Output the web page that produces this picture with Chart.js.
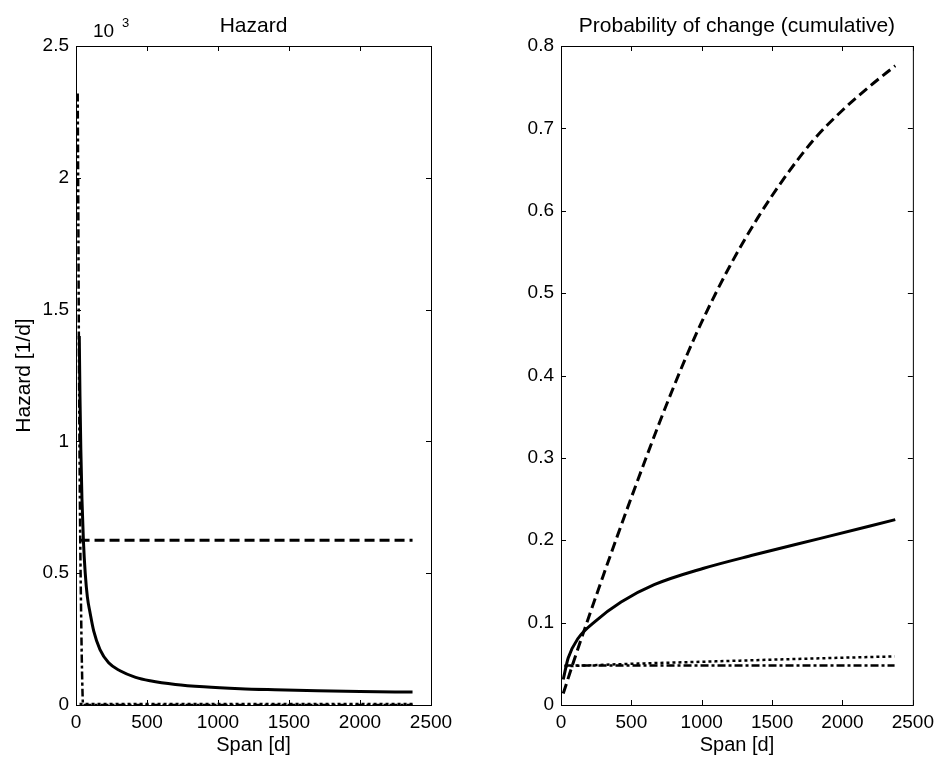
<!DOCTYPE html>
<html>
<head>
<meta charset="utf-8">
<script src="https://cdn.jsdelivr.net/npm/chart.js@4.4.1/dist/chart.umd.min.js"></script>
<style>
  html, body { margin: 0; padding: 0; background: #fff; }
  #wrap { position: relative; width: 940px; height: 757px; }
  canvas { position: absolute; top: 0; }
  #hazardChart { left: 0; }
  #probChart { left: 470px; }
</style>
</head>
<body>
<div id="wrap">
  <canvas id="hazardChart" width="470" height="757"></canvas>
  <canvas id="probChart" width="470" height="757"></canvas>
</div>
<script>
// Left panel: hazard (x 10^3)
const hazSolidX = [23, 28, 34, 42, 52, 65, 80, 99, 125, 169, 230, 310, 420, 522, 700, 900, 1156, 1400, 1700, 2000, 2370];
const hazSolidY = [1.40, 1.17, 0.97, 0.78, 0.626, 0.50, 0.41, 0.35, 0.28, 0.21, 0.16, 0.13, 0.105, 0.092, 0.078, 0.069, 0.062, 0.058, 0.054, 0.051, 0.049];
const hazDashX = [25, 2370];
const hazDashY = [0.625, 0.625];
const hazDashDotX = [12, 16, 20, 25, 30, 36, 42, 50, 2370];
const hazDashDotY = [2.32, 1.9, 1.4, 0.95, 0.62, 0.35, 0.14, 0.0, 0.0];
const hazDotX = [25, 2370];
const hazDotY = [0.004, 0.004];

// Right panel: cumulative probability of change
const probDashX = [16, 100, 200, 300, 400, 500, 600, 700, 800, 900, 1000, 1200, 1400, 1600, 1800, 2000, 2200, 2375];
const probDashY = [0.014, 0.058, 0.108, 0.157, 0.205, 0.252, 0.298, 0.343, 0.386, 0.427, 0.465, 0.533, 0.592, 0.643, 0.687, 0.722, 0.752, 0.776];
const probSolidX = [16, 51, 122, 239, 427, 662, 1014, 1366, 1836, 2375];
const probSolidY = [0.031, 0.057, 0.081, 0.101, 0.125, 0.146, 0.166, 0.182, 0.202, 0.225];
const probDotX = [25, 500, 1100, 1800, 2370];
const probDotY = [0.047, 0.050, 0.053, 0.0565, 0.059];
const probDashDotX = [25, 2370];
const probDashDotY = [0.048, 0.048];

const spanTicks = [0, 500, 1000, 1500, 2000, 2500];

const FONT = "'Liberation Sans', Arial, sans-serif";

function pts(xs, ys) {
    return xs.map((x, i) => ({ x: x, y: ys[i] }));
}

function line(xs, ys, dash, width) {
    return {
        data: pts(xs, ys),
        showLine: true,
        borderColor: '#000',
        borderWidth: width,
        borderDash: dash,
        pointRadius: 0,
        cubicInterpolationMode: 'monotone',
        fill: false
    };
}

// box around the plot with inward ticks on all four sides
const framePlugin = {
    id: 'frame',
    afterDatasetsDraw(chart) {
        const { ctx, chartArea: a, scales: { x, y } } = chart;
        ctx.save();
        ctx.strokeStyle = '#000';
        ctx.lineWidth = 1;
        ctx.strokeRect(a.left + 0.5, a.top + 0.5, a.width, a.height);
        ctx.beginPath();
        x.ticks.forEach(t => {
            const px = Math.round(x.getPixelForValue(t.value)) + 0.5;
            ctx.moveTo(px, a.bottom); ctx.lineTo(px, a.bottom - 5);
            ctx.moveTo(px, a.top); ctx.lineTo(px, a.top + 5);
        });
        y.ticks.forEach(t => {
            const py = Math.round(y.getPixelForValue(t.value)) + 0.5;
            ctx.moveTo(a.left, py); ctx.lineTo(a.left + 5, py);
            ctx.moveTo(a.right, py); ctx.lineTo(a.right - 5, py);
        });
        ctx.stroke();
        ctx.restore();
    }
};

// "10^3" multiplier above the hazard axis
const exponentPlugin = {
    id: 'exponent',
    afterDraw(chart) {
        const { ctx, chartArea: a } = chart;
        ctx.save();
        ctx.fillStyle = '#000';
        ctx.textBaseline = 'alphabetic';
        ctx.font = '19px ' + FONT;
        ctx.fillText('10', a.left + 17, a.top - 9);
        ctx.font = '13px ' + FONT;
        ctx.fillText('3', a.left + 46, a.top - 19);
        ctx.restore();
    }
};

function makeOptions(title, yMax, yStep, yTitle, yWidth, padRight) {
    return {
        responsive: false,
        animation: false,
        devicePixelRatio: 1,
        layout: { padding: { left: 0, right: padRight, top: 0, bottom: 0 } },
        plugins: {
            legend: { display: false },
            tooltip: { enabled: false },
            title: {
                display: true,
                fullSize: false,
                text: title,
                color: '#000',
                font: { family: FONT, size: 21, weight: 'normal' },
                padding: { top: 14, bottom: 6.8 }
            }
        },
        scales: {
            x: {
                type: 'linear',
                min: 0,
                max: 2500,
                afterBuildTicks: s => { s.ticks = spanTicks.map(v => ({ value: v })); },
                ticks: {
                    color: '#000',
                    padding: 6,
                    autoSkip: false,
                    maxRotation: 0,
                    font: { family: FONT, size: 19 },
                    callback: v => String(v)
                },
                grid: { display: false, drawTicks: false },
                border: { display: false },
                title: {
                    display: true,
                    text: 'Span [d]',
                    color: '#000',
                    font: { family: FONT, size: 20 },
                    padding: { top: 0, bottom: 0 }
                },
                afterFit: s => { s.height = 52; }
            },
            y: {
                type: 'linear',
                min: 0,
                max: yMax,
                ticks: {
                    stepSize: yStep,
                    color: '#000',
                    padding: 7,
                    font: { family: FONT, size: 19 },
                    callback: v => String(+v.toFixed(2))
                },
                grid: { display: false, drawTicks: false },
                border: { display: false },
                title: {
                    display: !!yTitle,
                    text: yTitle,
                    color: '#000',
                    font: { family: FONT, size: 21 },
                    padding: { top: 12, bottom: 0 }
                },
                afterFit: s => { s.width = yWidth; }
            }
        }
    };
}

new Chart(document.getElementById('hazardChart'), {
    type: 'scatter',
    data: {
        datasets: [
            line(hazSolidX, hazSolidY, [], 3),
            line(hazDashX, hazDashY, [10, 5], 3),
            line(hazDashDotX, hazDashDotY, [8, 3, 3, 3], 2.5),
            line(hazDotX, hazDotY, [3, 3], 2.5)
        ]
    },
    options: makeOptions('Hazard', 2.5, 0.5, 'Hazard [1/d]', 76, 39),
    plugins: [framePlugin, exponentPlugin]
});

new Chart(document.getElementById('probChart'), {
    type: 'scatter',
    data: {
        datasets: [
            line(probDashX, probDashY, [10, 5], 3),
            line(probSolidX, probSolidY, [], 3),
            line(probDotX, probDotY, [3, 3], 2.5),
            line(probDashDotX, probDashDotY, [8, 3, 3, 3], 2.5)
        ]
    },
    options: makeOptions('Probability of change (cumulative)', 0.8, 0.1, '', 91, 24),
    plugins: [framePlugin]
});
</script>
</body>
</html>
